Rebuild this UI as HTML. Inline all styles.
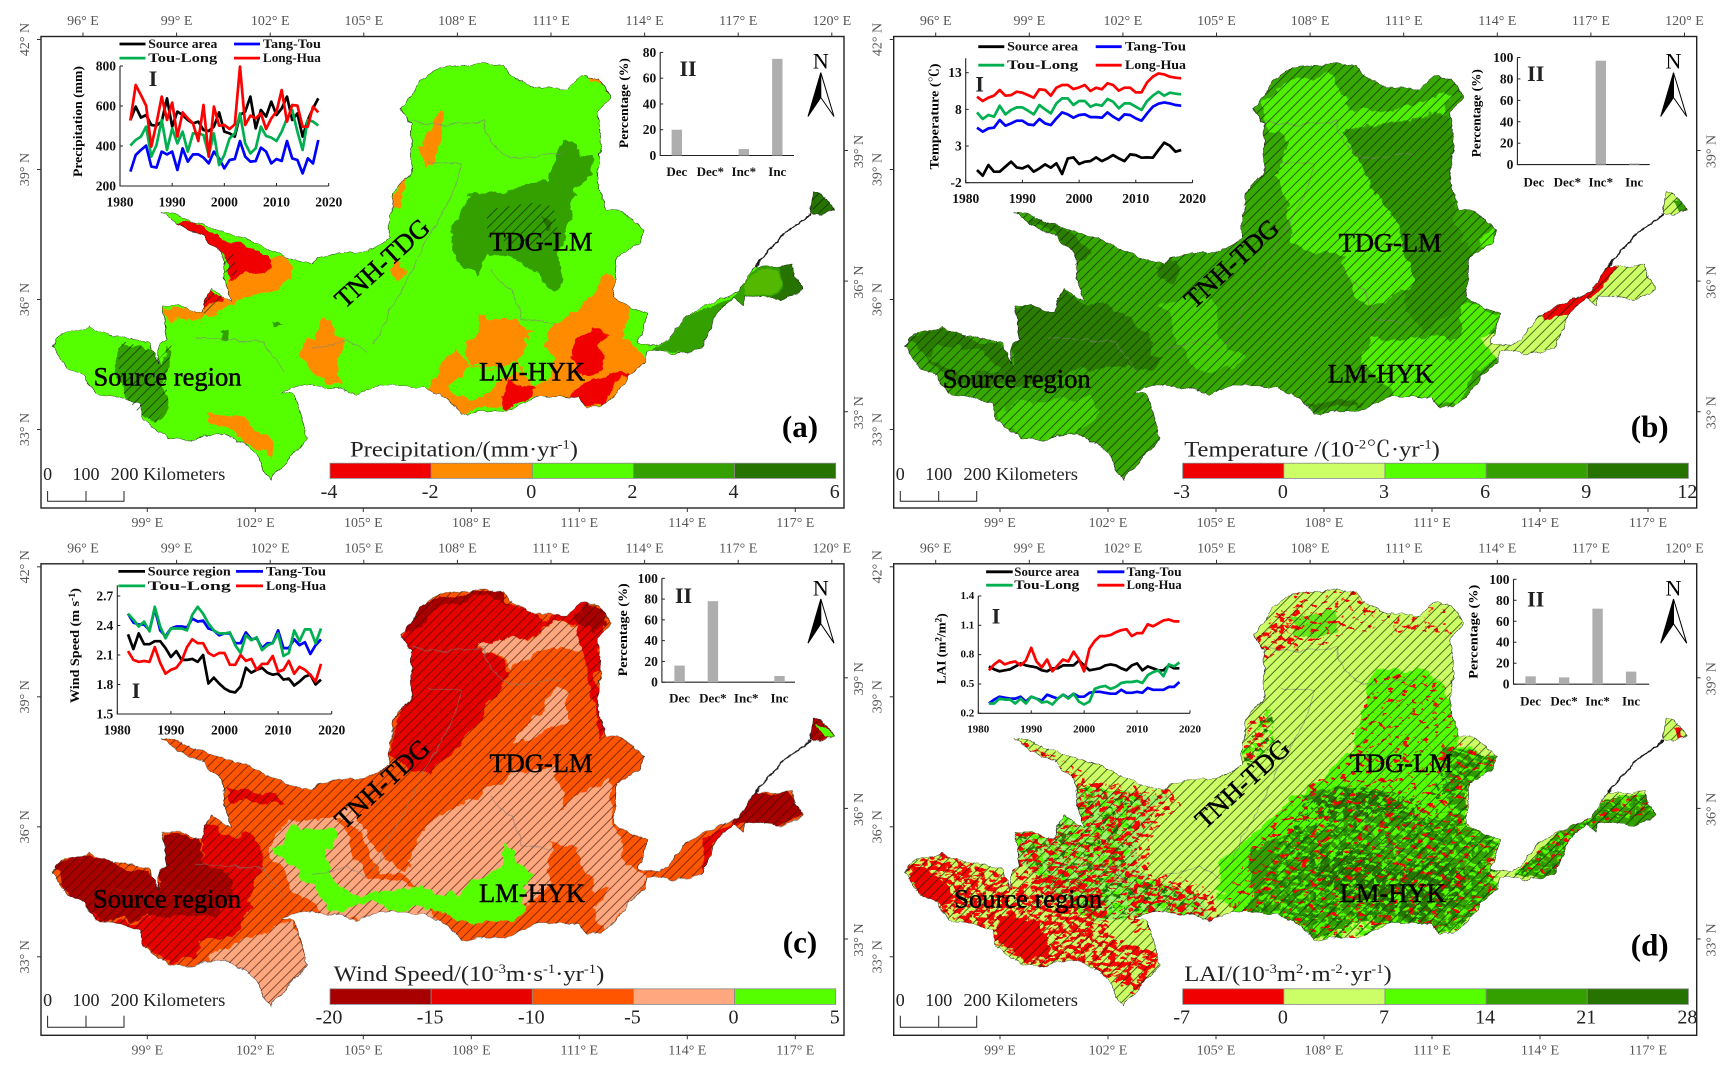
<!DOCTYPE html>
<html lang="en">
<head>
<meta charset="utf-8">
<title>Yellow River basin trend maps</title>
<style>
html,body{margin:0;padding:0;background:#fff}
svg{display:block}
text{font-family:"Liberation Serif","Noto Serif CJK SC",serif;fill:#000}
.region-label{font-size:26.5px;stroke:#000;stroke-width:.5;text-anchor:middle;dominant-baseline:central}
.tag{font-size:31px;font-weight:bold;text-anchor:middle;dominant-baseline:central}
.cb-title{font-size:22px;fill:#222}
.scale{font-size:18px;fill:#222}
.ylab{font-size:13px;font-weight:bold;text-anchor:middle}
.rom{font-size:22px;font-weight:bold;text-anchor:middle;dominant-baseline:central;fill:#222}
.north{font-size:22px;text-anchor:middle;dominant-baseline:central}
.ol{fill:none;stroke:#1a1a1a;stroke-width:1;vector-effect:non-scaling-stroke}
.inner{fill:none;stroke:#808080;stroke-opacity:.6;stroke-width:1;vector-effect:non-scaling-stroke}
</style>
</head>
<body>
<svg id="fig" xmlns="http://www.w3.org/2000/svg" width="1732" height="1071" viewBox="0 0 1732 1071">
<defs>
  <pattern id="hatch" width="7" height="7" patternUnits="userSpaceOnUse" patternTransform="rotate(45)">
    <line x1="3" y1="0" x2="3" y2="7" stroke="#102400" stroke-opacity=".66" stroke-width="1"/>
  </pattern>
  <pattern id="hatchC" width="7" height="7" patternUnits="userSpaceOnUse" patternTransform="rotate(45)">
    <line x1="3" y1="0" x2="3" y2="7" stroke="#3a1000" stroke-opacity=".62" stroke-width="1"/>
  </pattern>
  <filter id="rough" filterUnits="userSpaceOnUse" x="-5" y="-5" width="813" height="482" color-interpolation-filters="sRGB">
    <feTurbulence type="fractalNoise" baseFrequency=".09" numOctaves="3" seed="7" result="n"/>
    <feDisplacementMap in="SourceGraphic" in2="n" scale="6" xChannelSelector="R" yChannelSelector="G"/>
  </filter>
  <filter id="organic" filterUnits="userSpaceOnUse" x="-30" y="-30" width="863" height="532" color-interpolation-filters="sRGB">
    <feTurbulence type="fractalNoise" baseFrequency=".035" numOctaves="4" seed="11" result="n"/>
    <feDisplacementMap in="SourceGraphic" in2="n" scale="20" xChannelSelector="R" yChannelSelector="G"/>
  </filter>
  <clipPath id="basin"><path id="basinShape" transform="scale(.5534,.3381) translate(-50,-108)" d="M70,1025 L90,985 112,982 135,968 160,985 175,990 215,1000 245,1015 255,1050 262,1075 262,1020 278,1005 268,905 300,905 340,925 345,890 358,855 395,890 380,825 378,780 375,745 340,695 300,665 268,627 290,630 340,665 385,690 410,700 440,720 490,760 540,785 550,760 590,750 640,745 680,705 680,650 685,570 720,510 718,370 700,320 720,285 735,240 770,200 850,185 885,195 910,235 945,260 1000,265 1030,225 1060,235 1080,290 1055,330 1062,400 1060,450 1055,520 1070,620 1100,625 1140,680 1130,720 1090,760 1085,880 1110,905 1145,925 1130,1015 1160,1025 1185,1000 1215,935 1270,890 1310,860 1340,785 1385,790 1405,778 1425,860 1390,885 1325,875 1320,905 1300,880 1270,930 1245,1030 1190,1045 1145,1035 1140,1070 1115,1110 1085,1170 1060,1205 1035,1205 1020,1180 950,1170 900,1210 810,1225 780,1175 740,1145 660,1140 620,1165 585,1150 520,1140 485,1160 510,1170 530,1300 500,1350 465,1420 450,1390 440,1340 380,1280 320,1300 280,1295 235,1245 230,1195 180,1170 150,1165 125,1110 95,1090 Z M1445,570 L1460,570 1485,620 1465,635 1440,630 Z"/></clipPath>
  <clipPath id="hatchAClip"><path transform="scale(.5534,.3381) translate(-74,-108)" d="M213,1005 L275,1035 285,1065 310,1020 300,1130 305,1200 280,1250 250,1220 225,1170 215,1100 Z M880,620 L960,600 1000,610 1010,700 950,730 880,700 Z M375,860 L410,880 375,930 362,925 Z M400,760 L420,740 430,810 410,820 Z M1465,570 L1485,570 1510,620 1470,635 Z"/></clipPath>
  <clipPath id="dHeavy"><polygon transform="scale(.5534,.345) translate(-50,-98)" points="60,1000 130,930 260,1010 260,1040 340,1000 430,1050 440,1180 530,1230 500,1370 440,1300 300,1270 180,1150 90,1060"/></clipPath>
  <clipPath id="dMed"><path transform="scale(.5534,.345) translate(-50,-98)" d="M260,870 L370,860 380,720 550,760 570,800 510,900 520,990 620,1040 640,1130 480,1170 470,1050 340,1000 260,1040 Z M680,650 L690,560 730,520 730,600 700,680 Z M270,605 L340,660 420,720 380,730 300,680 Z M700,330 L740,240 790,220 780,320 720,380 Z"/></clipPath>
  <clipPath id="dGreenMix"><path transform="scale(.5534,.345) translate(-50,-98)" d="M700,1110 L740,920 790,800 860,740 960,750 1010,800 1060,640 1140,660 1140,700 1085,760 1085,870 1145,895 1140,1050 1060,1170 810,1190 Z M375,740 L500,770 480,880 470,1000 600,1060 600,1130 400,1130 300,1000 260,880 Z M1170,1000 L1250,880 1340,780 1420,760 1420,830 1320,850 1250,1000 Z M680,640 L730,510 740,620 690,690 Z"/></clipPath>
  <clipPath id="dLightZone"><path transform="scale(.5534,.345) translate(-50,-98)" d="M640,1090 L720,860 780,770 860,680 920,420 1040,430 1075,620 1140,660 1140,700 1085,760 1085,870 1145,895 1140,1050 1060,1170 810,1190 Z M375,740 L540,770 500,880 490,1000 610,1060 610,1130 400,1130 300,1000 260,880 Z M1170,1000 L1250,880 1340,780 1420,760 1420,830 1320,850 1250,1000 Z M720,290 L770,190 850,170 1040,210 1060,300 880,310 760,360 Z"/></clipPath>
  <filter id="speckHeavy" x="0" y="0" width="100%" height="100%" color-interpolation-filters="sRGB"><feTurbulence type="fractalNoise" baseFrequency=".13 .24" numOctaves="3" seed="4"/><feColorMatrix values="0 0 0 0 1  0 0 0 0 0  0 0 0 0 0  14 0 0 0 -6.3"/></filter>
  <filter id="speckMed" x="0" y="0" width="100%" height="100%" color-interpolation-filters="sRGB"><feTurbulence type="fractalNoise" baseFrequency=".13 .24" numOctaves="3" seed="9"/><feColorMatrix values="0 0 0 0 1  0 0 0 0 0  0 0 0 0 0  14 0 0 0 -7.6"/></filter>
  <filter id="speckLight" x="0" y="0" width="100%" height="100%" color-interpolation-filters="sRGB"><feTurbulence type="fractalNoise" baseFrequency=".13 .24" numOctaves="3" seed="15"/><feColorMatrix values="0 0 0 0 1  0 0 0 0 0  0 0 0 0 0  14 0 0 0 -8.7"/></filter>
  <filter id="speckGreen" x="0" y="0" width="100%" height="100%" color-interpolation-filters="sRGB"><feTurbulence type="fractalNoise" baseFrequency=".12 .2" numOctaves="3" seed="22"/><feColorMatrix values="0 0 0 0 .12  0 0 0 0 .5  0 0 0 0 0  14 0 0 0 -7.7"/></filter>
  <filter id="speckBright" x="0" y="0" width="100%" height="100%" color-interpolation-filters="sRGB"><feTurbulence type="fractalNoise" baseFrequency=".14 .22" numOctaves="3" seed="31"/><feColorMatrix values="0 0 0 0 .33  0 0 0 0 1  0 0 0 0 0  14 0 0 0 -7.4"/></filter>
</defs>

<!-- PANEL A -->
<g id="panel-a" transform="translate(41,36.5)">
  <g filter="url(#rough)">
  <g clip-path="url(#basin)">
    <rect x="0" y="0" width="803" height="472" fill="#55ff00"/>
    <g filter="url(#organic)"><g transform="scale(.5534,.3381) translate(-74,-108)">
      <polygon fill="#ff8c00" points="490,755 530,790 525,825 495,860 435,885 400,930 360,965 300,930 290,905 340,925 400,880 418,815"/>
      <polygon fill="#f00000" points="285,625 340,665 400,695 440,720 490,760 485,805 420,825 400,770 395,745 340,705"/>
      <polygon fill="#f00000" points="375,855 410,880 375,935 360,925"/>
      <polygon fill="#ff8c00" points="575,945 605,950 620,1010 610,1130 575,1120 545,1040 565,1000"/>
      <polygon fill="#ff8c00" points="720,770 740,800 725,830 705,800"/>
      <polygon fill="#ff8c00" points="795,325 805,350 785,480 770,490 760,430 775,380"/>
      <polygon fill="#ff8c00" points="722,530 732,540 715,615 705,605"/>
      <polygon fill="#ff8c00" points="1055,222 1085,240 1100,275 1060,252"/>
      <polygon fill="#ff8c00" points="1105,795 1085,800 1065,890 1030,925 1000,960 988,1030 1000,1090 955,1150 960,1180 1085,1212 1175,1070 1130,1005 1135,900"/>
      <polygon fill="#ff8c00" points="838,1010 870,937 970,968 948,1010 948,1085 880,1075 855,1085 842,1050"/>
      <polygon fill="#ff8c00" points="775,1150 790,1090 820,1042 850,1085 948,1085 960,1180 910,1200 835,1230 790,1180"/>
      <polygon fill="#55ff00" points="815,1140 850,1090 945,1085 948,1110 900,1135 880,1165 840,1175 815,1150"/>
      <polygon fill="#ff8c00" points="375,1220 450,1240 490,1300 495,1365 470,1330 430,1290 375,1245"/>
      <polygon fill="#f00000" points="1085,958 1100,990 1080,1010 1085,1090 1050,1110 1030,1050 1060,1000"/>
      <polygon fill="#f00000" points="1105,1105 1145,1100 1100,1150 1085,1210 1060,1200 1035,1170 1070,1120"/>
      <polygon fill="#f00000" points="920,1135 960,1145 945,1190 910,1200 905,1185"/>
      <polygon fill="#33a000" points="810,660 850,580 920,555 990,545 1000,450 1030,435 1075,465 1070,510 1040,560 1035,640 1020,740 1000,860 960,810 925,750 885,735 860,815 845,800 820,740"/>
      <polygon fill="#33a000" points="213,1005 275,1035 285,1065 310,1020 300,1130 305,1200 280,1250 250,1220 225,1170 215,1100"/>
      <polygon fill="#33a000" points="395,980 415,985 410,1020 398,1015"/>
      <polygon fill="#33a000" points="490,948 515,955 500,968"/>
      <polygon fill="#267300" points="970,640 990,650 985,680 970,670"/>
    </g></g>
    <g transform="scale(.5534,.3381) translate(-74,-108)">
      <polygon fill="#33a000" points="1175,1040 1210,1000 1240,935 1295,900 1330,870 1370,780 1470,780 1460,890 1345,905 1290,1040"/>
      <polygon fill="#267300" points="1405,770 1460,775 1460,895 1385,895 1415,850"/>
      <polygon fill="#55b800" points="1345,840 1370,795 1405,800 1412,840 1395,875 1345,872"/>
      <polygon fill="#267300" points="1460,565 1515,565 1515,640 1460,640"/>
    </g>
  </g>
  <path class="inner" transform="scale(.5534,.3381) translate(-50,-108)" d="M720,360 L770,370 850,360 860,420 900,470 1000,450 M750,480 L810,490 790,590 750,700 730,760 M860,800 L900,860 920,940 980,960 M730,770 L700,860 650,1020 M330,1000 L450,1010 490,1100 M540,1030 L600,1010 640,1040"/>
  <use href="#basinShape" class="ol"/>
  <path class="ol" transform="scale(.5534,.3381) translate(-50,-108)" style="stroke-width:1.6" d="M1340,785 L1365,745 1385,700 1420,660 1440,632"/>
  </g>
  <rect clip-path="url(#hatchAClip)" x="0" y="0" width="803" height="472" fill="url(#hatch)"/>
  <text class="region-label" x="126.5" y="340">Source region</text>
  <text class="region-label" transform="translate(341,226.5) rotate(-42.5)">TNH-TDG</text>
  <text class="region-label" x="500" y="205">TDG-LM</text>
  <text class="region-label" x="491" y="335">LM-HYK</text>
  <text class="tag" x="759" y="390">(a)</text>
  <text class="cb-title" x="309" y="420" textLength="228" lengthAdjust="spacingAndGlyphs">Precipitation/(mm·yr<tspan font-size="13" dy="-8">-1</tspan><tspan dy="8">)</tspan></text>
  <text class="ylab" transform="translate(41,85) rotate(-90)" textLength="111" lengthAdjust="spacingAndGlyphs">Precipitation (mm)</text>
  <text class="ylab" transform="translate(587,66.6) rotate(-90)" textLength="90" lengthAdjust="spacingAndGlyphs">Percentage (%)</text>
  <text class="rom" x="112" y="42">I</text>
  <text class="rom" x="647" y="32">II</text>
</g>

<!-- PANEL B -->
<g id="panel-b" transform="translate(893.7,36.5)">
  <g filter="url(#rough)">
  <g clip-path="url(#basin)">
    <rect x="0" y="0" width="803" height="472" fill="#36a800"/>
    <g filter="url(#organic)"><g transform="scale(.5534,.3381) translate(-50,-108)">
      <polygon fill="#2a7d00" points="70,1025 90,985 135,968 175,990 245,1015 262,1075 262,1020 278,1005 268,905 300,905 340,925 358,855 395,890 430,900 480,930 500,990 520,1040 540,1060 500,1090 400,1090 300,1140 200,1150 130,1100 110,1040"/>
      <polygon fill="#33a000" points="115,1045 140,1025 215,1035 235,1090 200,1110 140,1085"/>
      <polygon fill="#2a7d00" points="262,622 340,665 385,690 410,740 375,770 340,700"/>
      <polygon fill="#2a7d00" points="520,790 565,780 560,820 530,825"/>
      <polygon fill="#2a7d00" points="790,1180 900,1190 810,1225"/>
      <polygon fill="#309400" points="860,400 1060,330 1060,620 1090,760 1090,880 1075,900 1000,990 960,800 930,600"/>
      <polygon fill="#50ee00" points="770,235 830,225 870,290 880,325 960,320 1030,285 1060,295 1050,330 960,360 860,395 900,500 930,600 955,680 985,770 975,850 945,900 900,900 860,810 875,745 790,735 770,720 760,600 735,520 755,480 760,420 720,370 715,300 745,270"/>
      <polygon fill="#50ee00" points="1075,900 1145,925 1130,1015 1145,1035 1100,1110 1060,1205 1020,1180 950,1165 900,1090 915,1000 1010,1010 1075,990"/>
      <polygon fill="#44d000" points="530,900 620,890 640,1000 680,1060 660,1100 600,1080 560,1000"/>
      <polygon fill="#44d000" points="235,1210 300,1200 400,1165 430,1220 380,1280 320,1300 280,1295 240,1250"/>
      <polygon fill="#50ee00" points="1100,690 1140,680 1130,720 1100,730"/>
    </g></g>
    <g transform="scale(.5534,.3381) translate(-50,-108)">
      <polygon fill="#ccff66" points="1110,1000 1300,890 1300,1050 1140,1060"/>
      <polygon fill="#ccff66" points="1300,870 1340,780 1430,770 1430,890 1320,910"/>
      <polygon fill="#ccff66" points="1440,565 1465,565 1470,640 1440,640"/>
      <polygon fill="#33a000" points="1460,590 1490,610 1470,640"/>
      <polygon fill="#f00000" points="1215,925 1270,885 1310,855 1338,780 1358,790 1320,870 1270,930 1225,950"/>
    </g>
  </g>
  <path class="inner" transform="scale(.5534,.3381) translate(-50,-108)" d="M720,360 L770,370 850,360 860,420 900,470 1000,450 M750,480 L810,490 790,590 750,700 730,760 M860,800 L900,860 920,940 980,960 M730,770 L700,860 650,1020 M330,1000 L450,1010 490,1100 M540,1030 L600,1010 640,1040"/>
  <use href="#basinShape" class="ol"/>
  <path class="ol" transform="scale(.5534,.3381) translate(-50,-108)" style="stroke-width:1.6" d="M1340,785 L1365,745 1385,700 1420,660 1440,632"/>
  </g>
  <g clip-path="url(#basin)"><rect x="0" y="0" width="803" height="472" fill="url(#hatch)"/></g>
  <text class="region-label" x="123" y="342">Source region</text>
  <text class="region-label" transform="translate(337.6,227) rotate(-42.5)">TNH-TDG</text>
  <text class="region-label" x="496.4" y="206">TDG-LM</text>
  <text class="region-label" x="487" y="337">LM-HYK</text>
  <text class="tag" x="756" y="390">(b)</text>
  <text class="cb-title" x="290.5" y="420" textLength="255.7" lengthAdjust="spacingAndGlyphs">Temperature /(10<tspan font-size="13" dy="-8">-2</tspan><tspan dy="8">℃·yr</tspan><tspan font-size="13" dy="-8">-1</tspan><tspan dy="8">)</tspan></text>
  <text class="ylab" transform="translate(45,80) rotate(-90)" textLength="106" lengthAdjust="spacingAndGlyphs">Temperature (℃)</text>
  <text class="ylab" transform="translate(587,76.7) rotate(-90)" textLength="88" lengthAdjust="spacingAndGlyphs">Percentage (%)</text>
  <text class="rom" x="86" y="47.3">I</text>
  <text class="rom" x="642" y="37">II</text>
</g>

<!-- PANEL C -->
<g id="panel-c" transform="translate(41,563.8)">
  <g filter="url(#rough)">
  <g transform="translate(0,-1)" clip-path="url(#basin)">
    <rect x="0" y="0" width="803" height="472" fill="#ff5500"/>
    <g filter="url(#organic)"><g transform="translate(0,1) scale(.5534,.345) translate(-74,-98)">
      <polygon fill="#ffa77f" points="875,320 955,310 1000,262 1050,278 1055,350 1000,340 925,400 875,345"/>
      <polygon fill="#ffa77f" points="1000,445 1030,480 1030,560 950,610 935,600 975,540"/>
      <polygon fill="#ffa77f" points="850,790 930,700 1000,680 1020,760 1000,800 1040,770 1100,720 1110,860 1140,1000 1120,1030 1070,1030 1040,920 1000,900 990,1040 940,1100 800,1100 750,1040 740,1020 700,1000 640,880 600,830 640,800 650,870 730,1000 750,930 760,870 790,820"/>
      <polygon fill="#ffa77f" points="510,850 600,830 660,1000 750,1050 800,1130 620,1125 600,1130 520,1020 480,920"/>
      <polygon fill="#ffa77f" points="505,1150 535,1150 560,1300 490,1385 440,1320 370,1240 420,1200 470,1180"/>
      <polygon fill="#ffa77f" points="1130,980 1175,990 1130,1100 1090,1170 1070,1100"/>
      <polygon fill="#e60000" points="795,190 900,170 930,220 980,255 1050,215 1100,270 1085,340 1090,400 1075,420 1095,560 1080,590 1065,430 1050,350 1050,270 1000,260 950,310 875,320 870,340 925,410 880,500 870,550 810,640 780,710 740,700 700,650 715,550 745,460 725,310 755,225"/>
      <polygon fill="#a80000" points="755,225 795,190 900,170 930,220 880,190 800,220 760,280 730,300"/>
      <polygon fill="#a80000" points="1050,215 1105,270 1085,300 1040,260"/>
      <polygon fill="#e60000" points="360,965 370,850 410,880 450,880 480,960 470,1020 440,1120 430,1160 360,1190 350,1240 300,1255 255,1200 200,1140 280,1130 380,1120 430,1060 420,1010"/>
      <polygon fill="#a80000" points="92,1000 105,958 155,940 200,962 270,990 285,1030 285,940 300,875 360,915 360,965 420,1010 430,1060 380,1120 280,1130 200,1130 140,1090"/>
      <polygon fill="#e60000" points="140,1085 195,1130 170,1135"/>
      <polygon fill="#e60000" points="400,740 500,770 510,800 420,790"/>
    </g></g>
    <g transform="translate(0,1) scale(.5534,.345) translate(-74,-98)">
      <polygon fill="#a80000" points="1360,755 1395,770 1420,755 1445,790 1447,830 1400,860 1340,850 1320,850 1340,800"/>
      <polygon fill="#e60000" points="1270,895 1320,850 1340,850 1290,905 1270,1000"/>
      <polygon fill="#a80000" points="1460,540 1490,540 1515,610 1465,615"/>
    </g>
  </g>
  </g>
  <g transform="translate(0,-1)" clip-path="url(#basin)"><rect x="0" y="0" width="803" height="472" fill="url(#hatchC)"/></g>
  <g filter="url(#rough)">
  <g transform="translate(0,-1)" clip-path="url(#basin)">
    <g filter="url(#organic)"><g transform="translate(0,1) scale(.5534,.345) translate(-74,-98)">
      <polygon fill="#55ff00" points="520,850 560,865 600,880 610,925 590,930 600,1010 640,1040 670,1060 730,1050 760,1030 800,1060 830,1060 850,1020 900,990 915,910 930,960 960,1000 945,1100 920,1140 850,1135 780,1095 700,1090 650,1080 600,1110 570,1030 520,980 490,920 520,900"/>
    </g></g>
    <g transform="translate(0,1) scale(.5534,.345) translate(-74,-98)">
      <polygon fill="#55ff00" points="1475,560 1495,575 1510,600 1490,605"/>
    </g>
  </g>
  <g transform="translate(0,-1)">
  <path class="inner" transform="scale(.5534,.3381) translate(-50,-108)" d="M720,360 L770,370 850,360 860,420 900,470 1000,450 M750,480 L810,490 790,590 750,700 730,760 M860,800 L900,860 920,940 980,960 M730,770 L700,860 650,1020 M330,1000 L450,1010 490,1100 M540,1030 L600,1010 640,1040"/>
  <use href="#basinShape" class="ol"/>
  <path class="ol" transform="scale(.5534,.3381) translate(-50,-108)" style="stroke-width:1.6" d="M1340,785 L1365,745 1385,700 1420,660 1440,632"/>
  </g>
  </g>
  <text class="region-label" x="126" y="334.7">Source region</text>
  <text class="region-label" transform="translate(341,219.8) rotate(-42.5)">TNH-TDG</text>
  <text class="region-label" x="500" y="199">TDG-LM</text>
  <text class="region-label" x="491" y="329">LM-HYK</text>
  <text class="tag" x="759" y="378">(c)</text>
  <text class="cb-title" x="292.7" y="417" textLength="270.6" lengthAdjust="spacingAndGlyphs">Wind Speed/(10<tspan font-size="13" dy="-8">-3</tspan><tspan dy="8">m·s</tspan><tspan font-size="13" dy="-8">-1</tspan><tspan dy="8">·yr</tspan><tspan font-size="13" dy="-8">-1</tspan><tspan dy="8">)</tspan></text>
  <text class="ylab" transform="translate(38,81.8) rotate(-90)" textLength="115" lengthAdjust="spacingAndGlyphs">Wind Speed (m s<tspan font-size="9" dy="-4">-1</tspan><tspan dy="4">)</tspan></text>
  <text class="ylab" transform="translate(586,66) rotate(-90)" textLength="93" lengthAdjust="spacingAndGlyphs">Percentage (%)</text>
  <text class="rom" x="95" y="126.6">I</text>
  <text class="rom" x="642.5" y="31.7">II</text>
</g>

<!-- PANEL D -->
<g id="panel-d" transform="translate(893.7,563.8)">
  <g filter="url(#rough)">
  <g transform="translate(0,-1)" clip-path="url(#basin)">
    <rect x="0" y="0" width="803" height="472" fill="#ccff66"/>
    <g filter="url(#organic)"><g transform="translate(0,1) scale(.5534,.345) translate(-50,-98)">
      <polygon fill="#55ff00" points="920,400 1040,430 1060,520 1075,620 1140,660 1140,700 1085,760 1085,870 1145,895 1130,1000 1140,1050 1080,1130 1060,1170 1020,1150 900,1135 810,1190 780,1150 640,1090 640,960 720,860 780,770 860,680 880,640"/>
      <polygon fill="#66e81a" points="770,250 850,240 860,290 770,310"/>
      <polygon fill="#9df56a" points="375,740 540,770 500,880 490,1000 610,1060 610,1130 400,1130 300,1000 260,880"/>
      <polygon fill="#33a000" points="790,760 850,740 950,760 1010,830 1085,860 1140,900 1130,1000 1140,1050 1080,1130 1050,1170 900,1135 810,1190 760,1130 690,1090 700,930 780,860 850,860"/>
      <polygon fill="#267300" points="800,790 850,750 930,760 975,810 900,830 820,830"/>
      <polygon fill="#267300" points="790,930 870,920 960,1000 1030,970 1085,970 1080,1060 1000,1130 880,1080 820,1020"/>
      <polygon fill="#2f9a00" points="1050,620 1140,660 1130,720 1085,760 1080,880 1040,880"/>
    </g></g>
    <g transform="translate(0,1) scale(.5534,.345) translate(-50,-98)">
      <polygon fill="#33a000" points="1170,1000 1250,880 1340,780 1430,760 1430,880 1320,900 1250,1010"/>
    </g>
    <rect clip-path="url(#dGreenMix)" filter="url(#speckGreen)" x="0" y="0" width="803" height="472"/>
    <rect clip-path="url(#dGreenMix)" filter="url(#speckBright)" x="0" y="0" width="803" height="472"/>
    <rect clip-path="url(#dHeavy)" filter="url(#speckHeavy)" x="0" y="0" width="803" height="472"/>
    <rect clip-path="url(#dMed)" filter="url(#speckMed)" x="0" y="0" width="803" height="472"/>
    <rect clip-path="url(#dLightZone)" filter="url(#speckLight)" x="0" y="0" width="803" height="472"/>
    <g filter="url(#organic)"><g transform="translate(0,1) scale(.5534,.345) translate(-50,-98)">
      <polygon fill="#f00000" points="72,985 120,985 170,1060 130,1090 90,1050"/>
      <polygon fill="#f00000" points="240,1130 320,1140 330,1240 280,1250 240,1190"/>
      <polygon fill="#f00000" points="1465,590 1490,600 1470,615"/>
    </g></g>
  </g>
  <g transform="translate(0,-1)">
  <path class="inner" transform="scale(.5534,.3381) translate(-50,-108)" d="M720,360 L770,370 850,360 860,420 900,470 1000,450 M750,480 L810,490 790,590 750,700 730,760 M860,800 L900,860 920,940 980,960 M730,770 L700,860 650,1020 M330,1000 L450,1010 490,1100 M540,1030 L600,1010 640,1040"/>
  <use href="#basinShape" class="ol"/>
  <path class="ol" transform="scale(.5534,.3381) translate(-50,-108)" style="stroke-width:1.6" d="M1340,785 L1365,745 1385,700 1420,660 1440,632"/>
  </g>
  </g>
  <g transform="translate(0,-1)" clip-path="url(#basin)"><rect x="0" y="0" width="803" height="472" fill="url(#hatch)"/></g>
  <text class="region-label" x="134.5" y="334.7">Source region</text>
  <text class="region-label" transform="translate(348.6,219.8) rotate(-42.5)">TNH-TDG</text>
  <text class="region-label" x="507.5" y="199">TDG-LM</text>
  <text class="region-label" x="499" y="329">LM-HYK</text>
  <text class="tag" x="756" y="381">(d)</text>
  <text class="cb-title" x="290.5" y="417" textLength="207.5" lengthAdjust="spacingAndGlyphs">LAI/(10<tspan font-size="13" dy="-8">-3</tspan><tspan dy="8">m</tspan><tspan font-size="13" dy="-8">2</tspan><tspan dy="8">·m</tspan><tspan font-size="13" dy="-8">-2</tspan><tspan dy="8">·yr</tspan><tspan font-size="13" dy="-8">-1</tspan><tspan dy="8">)</tspan></text>
  <text class="ylab" transform="translate(52,85) rotate(-90)" textLength="71" lengthAdjust="spacingAndGlyphs">LAI (m<tspan font-size="9" dy="-4">2</tspan><tspan dy="4">/m</tspan><tspan font-size="9" dy="-4">2</tspan><tspan dy="4">)</tspan></text>
  <text class="ylab" transform="translate(584,68) rotate(-90)" textLength="94" lengthAdjust="spacingAndGlyphs">Percentage (%)</text>
  <text class="rom" x="102.4" y="52.4">I</text>
  <text class="rom" x="642" y="35.2">II</text>
</g>
</svg>

<script>
// ---- inset I data ----
const years = [1982,1983,1984,1985,1986,1987,1988,1989,1990,1991,1992,1993,1994,1995,1996,1997,1998,1999,2000,2001,2002,2003,2004,2005,2006,2007,2008,2009,2010,2011,2012,2013,2014,2015,2016,2017,2018];
const xTickYears = [1980,1990,2000,2010,2020];

const precipSource = [530,597,542,555,505,502,522,638,497,572,555,530,513,522,480,475,497,568,472,463,447,555,572,647,488,580,547,622,555,588,647,530,563,447,530,588,638];
const precipTang = [272,355,380,402,297,292,372,358,372,280,388,322,358,358,342,313,372,338,288,330,335,425,347,322,325,392,372,313,335,325,425,338,330,263,338,313,430];
const precipTou = [402,430,447,497,347,405,530,380,488,413,472,372,463,463,455,355,463,305,355,438,463,563,413,363,388,497,450,442,425,472,538,580,472,380,530,522,502];
const precipLong = [527,705,655,602,397,513,647,530,617,447,568,538,513,425,605,347,597,502,505,485,508,797,505,552,538,563,485,538,572,680,522,605,602,497,497,597,568];
const precipTicks = [200,400,600,800];

const tempSource = [-0.27,-1.05,0.41,-0.5,-0.5,0.18,0.86,0.09,-0.05,0.32,-0.5,-0.05,0.5,0.05,0.64,-0.82,1.32,1.45,0.55,0.86,0.95,1.45,0.95,1.32,1.77,1.32,0.95,1.86,1.77,1.41,1.45,1.41,2.45,3.45,3.05,2.23,2.45];
const tempTang = [5.5,4.95,5.41,5.5,6.55,5.77,6.09,6.45,6.45,5.95,5.86,6.68,6.09,5.86,6.77,7.59,7.32,6.86,7.23,7.32,6.95,6.95,6.86,7.59,7,6.55,7.32,7.23,6.77,6.45,7.45,8.36,8.77,8.95,8.82,8.6,8.5];
const tempTou = [7.59,6.68,7.23,7,8.5,7.32,7.91,8.27,8.27,7.82,7.32,8.59,8,7.45,8.82,9.5,9.5,8.59,9.14,9.14,8.36,8.68,8.5,9.41,9.05,8.14,8.82,8.82,8.36,7.91,9.14,9.86,10.41,9.86,10.27,10.14,10.05];
const tempLong = [9.73,9.14,9.59,9.86,10.64,9.86,9.95,10.41,10.27,9.95,9.59,10.73,10.64,9.86,10.95,11.32,11.32,10.77,11,11.32,10.5,10.95,10.73,11.55,11.32,10.55,10.95,10.95,10.32,10.32,11.68,12.45,12.91,12.77,12.45,12.32,12.23];
const tempTicks = [-2,3,8,13];

const windSource = [2.31,2.16,2.32,2.21,2.21,2.24,2.24,2.17,2.08,2.14,2.05,2.05,2.06,2.03,2.1,1.81,1.87,1.81,1.76,1.73,1.72,1.78,1.97,1.92,1.95,1.97,1.92,1.9,1.91,1.85,1.86,1.79,1.83,1.88,1.9,1.8,1.85];
const windTang = [2.52,2.43,2.41,2.41,2.35,2.57,2.35,2.29,2.37,2.39,2.39,2.38,2.47,2.44,2.45,2.37,2.35,2.3,2.32,2.32,2.22,2.22,2.33,2.26,2.27,2.17,2.22,2.22,2.35,2.17,2.17,2.26,2.2,2.23,2.11,2.2,2.26];
const windTou = [2.52,2.46,2.39,2.44,2.34,2.59,2.39,2.27,2.37,2.37,2.37,2.35,2.51,2.59,2.52,2.42,2.35,2.32,2.32,2.33,2.2,2.12,2.3,2.25,2.28,2.15,2.2,2.22,2.32,2.09,2.12,2.35,2.24,2.36,2.36,2.22,2.37];
const windLong = [2.14,2.05,2.03,2.04,2.03,2.18,2.02,1.91,1.95,1.97,2.04,2.18,2.26,2.22,2.22,2.12,2.09,2.12,2.12,2,2,2.1,2.04,2.06,1.95,2.01,2.01,2.09,1.93,1.95,2.04,1.91,1.98,1.95,1.9,1.83,2.01];
const windTicks = [1.5,1.8,2.1,2.4,2.7];

const laiSource = [0.68,0.65,0.63,0.64,0.65,0.68,0.71,0.69,0.68,0.67,0.64,0.63,0.66,0.66,0.69,0.69,0.69,0.74,0.69,0.64,0.65,0.66,0.69,0.7,0.69,0.66,0.64,0.69,0.71,0.64,0.68,0.66,0.64,0.64,0.69,0.66,0.66];
const laiTang = [0.3,0.34,0.37,0.36,0.35,0.35,0.37,0.32,0.37,0.35,0.33,0.39,0.37,0.35,0.39,0.36,0.4,0.37,0.37,0.41,0.42,0.42,0.41,0.4,0.4,0.44,0.41,0.41,0.42,0.41,0.46,0.44,0.44,0.44,0.47,0.47,0.52];
const laiTou = [0.3,0.3,0.35,0.34,0.34,0.3,0.35,0.3,0.37,0.35,0.31,0.32,0.29,0.35,0.39,0.35,0.4,0.32,0.29,0.32,0.45,0.47,0.48,0.45,0.47,0.51,0.52,0.52,0.53,0.51,0.59,0.62,0.64,0.58,0.7,0.68,0.72];
const laiLong = [0.64,0.7,0.74,0.7,0.72,0.73,0.69,0.74,0.87,0.73,0.67,0.75,0.63,0.69,0.75,0.73,0.83,0.75,0.63,0.86,0.94,0.99,0.99,1,1.03,1.05,1.06,0.99,1.02,1.02,1.11,1.09,1.12,1.15,1.16,1.14,1.14];
const laiTicks = [0.2,0.5,0.8,1.1,1.4];

// ---- inset II data ----
const trendCategories = ['Dec','Dec*','Inc*','Inc'];
const precipBars = [20,0,5,75];
const tempBars = [0,0,97,1];
const windBars = [16,78,0,6];
const laiBars = [7.5,6.5,72,12];
const precipBarTicks = [0,20,40,60,80];
const pctBarTicks = [0,20,40,60,80,100];

// ---- colour legends ----
const precipLegendLabels = ['-4','-2','0','2','4','6'];
const tempLegendLabels = ['-3','0','3','6','9','12'];
const windLegendLabels = ['-20','-15','-10','-5','0','5'];
const laiLegendLabels = ['-7','0','7','14','21','28'];
const precipLegendColors = ['#f00000','#ff8c00','#55ff00','#33a000','#267300'];
const tempLegendColors = ['#f00000','#ccff66','#55ff00','#33a000','#267300'];
const windLegendColors = ['#a80000','#e60000','#ff5500','#ffa77f','#55ff00'];
const laiLegendColors = ['#f00000','#ccff66','#55ff00','#33a000','#267300'];

// ---- map graticule labels ----
const lonTopLabels = ['96° E','99° E','102° E','105° E','108° E','111° E','114° E','117° E','120° E'];
const lonBottomLabels = ['99° E','102° E','105° E','108° E','111° E','114° E','117° E'];
const latLeftLabels = ['42° N','39° N','36° N','33° N'];
const latRightLabels = ['39° N','36° N','33° N'];
const scaleLabels = ['0','100','200 Kilometers'];
const legendSeriesColors = ['#000000','#0000ff','#00b050','#ff0000'];
const legendNamesDefault = ['Source area','Tang-Tou','Tou-Long','Long-Hua'];
const legendNamesWind = ['Source region','Tang-Tou','Tou-Long','Long-Hua'];

const NS = 'http://www.w3.org/2000/svg';
function mk(tag, parent, props){
  const e = document.createElementNS(NS, tag);
  for (const k in props) e.setAttribute(k, props[k]);
  parent.appendChild(e);
  return e;
}
function label(parent, x, y, str, size, opts){
  const o = opts || {};
  const t = mk('text', parent, {x:x, y:y, 'font-size':size, 'text-anchor':o.anchor||'middle', 'dominant-baseline':'central'});
  if (o.weight) t.setAttribute('font-weight', o.weight);
  if (o.fill) t.style.fill = o.fill;
  if (o.len){ t.setAttribute('textLength', o.len); t.setAttribute('lengthAdjust','spacingAndGlyphs'); }
  if (o.rot!==undefined) t.setAttribute('transform','rotate('+o.rot+' '+x+' '+y+')');
  t.textContent = str;
  return t;
}

const panels = [
 {id:'panel-a', dy:0, legendColors:precipLegendColors, legendLabels:precipLegendLabels, cbTop:426.7, cbH:15.2, cbLabelY:455.4, scaleY:437.5, barTop:454.5, barBot:464.8, north:{apex:36.2,bot:80,notch:61,n:24.3},
  line:{x0:79,x1:287.7,yBot:149.5,yTop:29.5,axisTop:29.5,min:200,max:800,ticks:precipTicks,size:13.5,fmt:function(v){return v;},
    series:[precipSource,precipTang,precipTou,precipLong],names:legendNamesDefault,
    leg:{rows:[7.5,21.6],c1:[78.5,104.5,107.3,69],c2:[193,219,221.9,58]}},
  bar:{x0:619.2,x1:753,yBot:119,yTop:15.9,max:80,ticks:precipBarTicks,c0:635.8,step:33.5,labelY:135.2,vals:precipBars}},
 {id:'panel-b', dy:0, legendColors:tempLegendColors, legendLabels:tempLegendLabels, cbTop:426.7, cbH:15.2, cbLabelY:455.4, scaleY:437.5, barTop:454.5, barBot:464.8, north:{apex:36.2,bot:80,notch:61,n:24.3},
  line:{x0:72,x1:298.8,yBot:146.2,yTop:36.2,axisTop:21.7,min:-2,max:13,ticks:tempTicks,size:13.5,fmt:function(v){return v;},
    series:[tempSource,tempTang,tempTou,tempLong],names:legendNamesDefault,
    leg:{rows:[10.2,28.7],c1:[84.6,110.6,113.4,71],c2:[202,228,231.3,61]}},
  bar:{x0:623.7,x1:756,yBot:128.1,yTop:21,max:100,ticks:pctBarTicks,c0:640.3,step:33.4,labelY:145.5,vals:tempBars}},
 {id:'panel-c', dy:-1.5, legendColors:windLegendColors, legendLabels:windLegendLabels, cbTop:425, cbH:15.6, cbLabelY:453.8, scaleY:436, barTop:452, barBot:463.4, north:{apex:35.2,bot:79.4,notch:60,n:24},
  line:{x0:76.3,x1:290.7,yBot:150.2,yTop:32.2,axisTop:21.4,min:1.5,max:2.7,ticks:windTicks,size:13.5,fmt:function(v){return v.toFixed(1);},
    series:[windSource,windTang,windTou,windLong],names:legendNamesWind,
    leg:{rows:[7.6,22.1],c1:[77.4,104,106.8,83],c2:[195,222,225,60]}},
  bar:{x0:620.9,x1:754,yBot:118.4,yTop:14.5,max:100,ticks:pctBarTicks,c0:638.6,step:33.3,labelY:134,vals:windBars}},
 {id:'panel-d', dy:-1.5, legendColors:laiLegendColors, legendLabels:laiLegendLabels, cbTop:425, cbH:15.6, cbLabelY:453.8, scaleY:436, barTop:452, barBot:463.4, north:{apex:35.2,bot:79.4,notch:60,n:24},
  line:{x0:84.6,x1:296.3,yBot:149.5,yTop:32.2,axisTop:32.2,min:0.2,max:1.4,ticks:laiTicks,size:11,fmt:function(v){return v.toFixed(1);},
    series:[laiSource,laiTang,laiTou,laiLong],names:legendNamesDefault,
    leg:{rows:[8,21.4],c1:[92.4,119,120.6,65],c2:[203.6,230.7,232.9,55]}},
  bar:{x0:619.8,x1:755.5,yBot:120.4,yTop:15.5,max:100,ticks:pctBarTicks,c0:636.9,step:33.5,labelY:137,vals:laiBars}}
];

const seriesKeys = ['source','tang-tou','tou-long','long-hua'];
const drawOrder = [0,1,2,3];

panels.forEach(function(p){
  const root = document.getElementById(p.id);
  const W = 803, H = 471.5;

  // map frame
  const frame = mk('rect', root, {x:0, y:0, width:W, height:H, fill:'none', stroke:'#222', 'stroke-width':1.4});
  
  

  // graticule
  lonTopLabels.forEach(function(s, i){
    const x = 42 + 93.6*i;
    mk('line', root, {x1:x, x2:x, y1:-4, y2:0, stroke:'#333'});
    const t = label(root, x, -15, s, 14, {fill:'#555'});
    
    
  });
  lonBottomLabels.forEach(function(s, i){
    const x = 106.3 + 108*i;
    mk('line', root, {x1:x, x2:x, y1:H, y2:H+4, stroke:'#333'});
    const t = label(root, x, 487.2, s, 14, {fill:'#555'});
    
    
  });
  latLeftLabels.forEach(function(s, i){
    const y = 3 + 130*i;
    mk('line', root, {x1:-4, x2:0, y1:y, y2:y, stroke:'#333'});
    const t = label(root, -15.5, y, s, 14, {fill:'#555', rot:-90});
    
    
  });
  latRightLabels.forEach(function(s, i){
    const y = 114 + 130.6*i;
    mk('line', root, {x1:W, x2:W+4, y1:y, y2:y, stroke:'#333'});
    const t = label(root, 818.5, y+1, s, 14, {fill:'#555', rot:-90});
    
    
  });

  // scale bar
  const sb = mk('path', root, {d:'M6.6,'+p.barTop+' V'+p.barBot+' H83 V'+p.barTop+' M45,'+p.barTop+' V'+p.barBot, fill:'none', stroke:'#222', 'stroke-width':1});
  
  
  const scaleX = [6.6, 45, 69.7];
  scaleLabels.forEach(function(s, i){
    const t = label(root, scaleX[i], p.scaleY, s, 18, {anchor: i===2 ? 'start':'middle', fill:'#222', len: i===2 ? 114.6 : null});
    
    
  });

  // north arrow
  const n = p.north;
  const left = mk('polygon', root, {points:'779.8,'+n.apex+' 767,'+n.bot+' 779.8,'+n.notch, fill:'#000', stroke:'#000'});
  
  
  const right = mk('polygon', root, {points:'779.8,'+n.apex+' 793,'+n.bot+' 779.8,'+n.notch, fill:'#fff', stroke:'#000'});
  
  
  const nt = label(root, 779.8, n.n, 'N', 22);
  
  

  // colour legend
  const cbX0 = 289, cbW = 505.7/5;
  p.legendColors.forEach(function(c, i){
    const r = mk('rect', root, {x:cbX0+cbW*i, y:p.cbTop, width:cbW, height:p.cbH, fill:c, stroke:'#888', 'stroke-width':.8});
    
    
  });
  p.legendLabels.forEach(function(s, i){
    const t = label(root, cbX0+cbW*i-1, p.cbLabelY, s, 20, {fill:'#222'});
    
    
  });

  // inset I : time series
  const L = p.line;
  const xs = function(yr){ return L.x0 + (yr-1980)/40*(L.x1-L.x0); };
  const ys = function(v){ return L.yBot - (v-L.min)/(L.max-L.min)*(L.yBot-L.yTop); };
  const ax = mk('path', root, {d:'M'+L.x0+','+L.axisTop+' V'+L.yBot+' H'+L.x1, fill:'none', stroke:'#222', 'stroke-width':1.1});
  
  
  xTickYears.forEach(function(yr){
    const x = xs(yr);
    mk('line', root, {x1:x, x2:x, y1:L.yBot-3, y2:L.yBot, stroke:'#222'});
    const t = label(root, x, L.yBot+16, String(yr), L.size, {weight:'bold', fill:'#111'});
    
    
  });
  L.ticks.forEach(function(v){
    const y = ys(v);
    mk('line', root, {x1:L.x0, x2:L.x0+3, y1:y, y2:y, stroke:'#222'});
    const t = label(root, L.x0-4, y, String(L.fmt(v)), L.size, {anchor:'end', weight:'bold', fill:'#111'});
    
    
  });
  drawOrder.forEach(function(si){
    const vals = L.series[si];
    const pts = vals.map(function(v, i){ return xs(years[i]).toFixed(1)+','+ys(v).toFixed(1); }).join(' ');
    const line = mk('polyline', root, {points:pts, fill:'none', stroke:legendSeriesColors[si], 'stroke-width':2.7, 'stroke-linejoin':'round'});
    
    
  });
  // legend
  const G = L.leg;
  [[0,G.c1,G.rows[0]],[1,G.c2,G.rows[0]],[2,G.c1,G.rows[1]],[3,G.c2,G.rows[1]]].forEach(function(e){
    const si = e[0], c = e[1], y = e[2];
    const k = mk('line', root, {x1:c[0], x2:c[1], y1:y, y2:y, stroke:legendSeriesColors[si], 'stroke-width':2.8});
    
    
    const t = label(root, c[2], y, L.names[si], 12.5, {anchor:'start', weight:'bold', fill:'#111', len:c[3]});
    
    
  });

  // inset II : bars
  const B = p.bar;
  const by = function(v){ return B.yBot - v/B.max*(B.yBot-B.yTop); };
  const bax = mk('path', root, {d:'M'+B.x0+','+B.yTop+' V'+B.yBot+' H'+B.x1, fill:'none', stroke:'#222', 'stroke-width':1.1});
  
  
  B.ticks.forEach(function(v){
    const y = by(v);
    mk('line', root, {x1:B.x0, x2:B.x0+3, y1:y, y2:y, stroke:'#222'});
    const t = label(root, B.x0-4, y, String(v), 13.5, {anchor:'end', weight:'bold', fill:'#111'});
    
    
  });
  trendCategories.forEach(function(c, i){
    const cx = B.c0 + B.step*i;
    const v = B.vals[i];
    const r = mk('rect', root, {x:cx-5.2, y:by(v), width:10.4, height:B.yBot-by(v), fill:'#aeaeae'});
    
    
    const t = label(root, cx, B.labelY, c, 13, {weight:'bold', fill:'#111'});
    
    
  });
});
</script>
</body>
</html>
